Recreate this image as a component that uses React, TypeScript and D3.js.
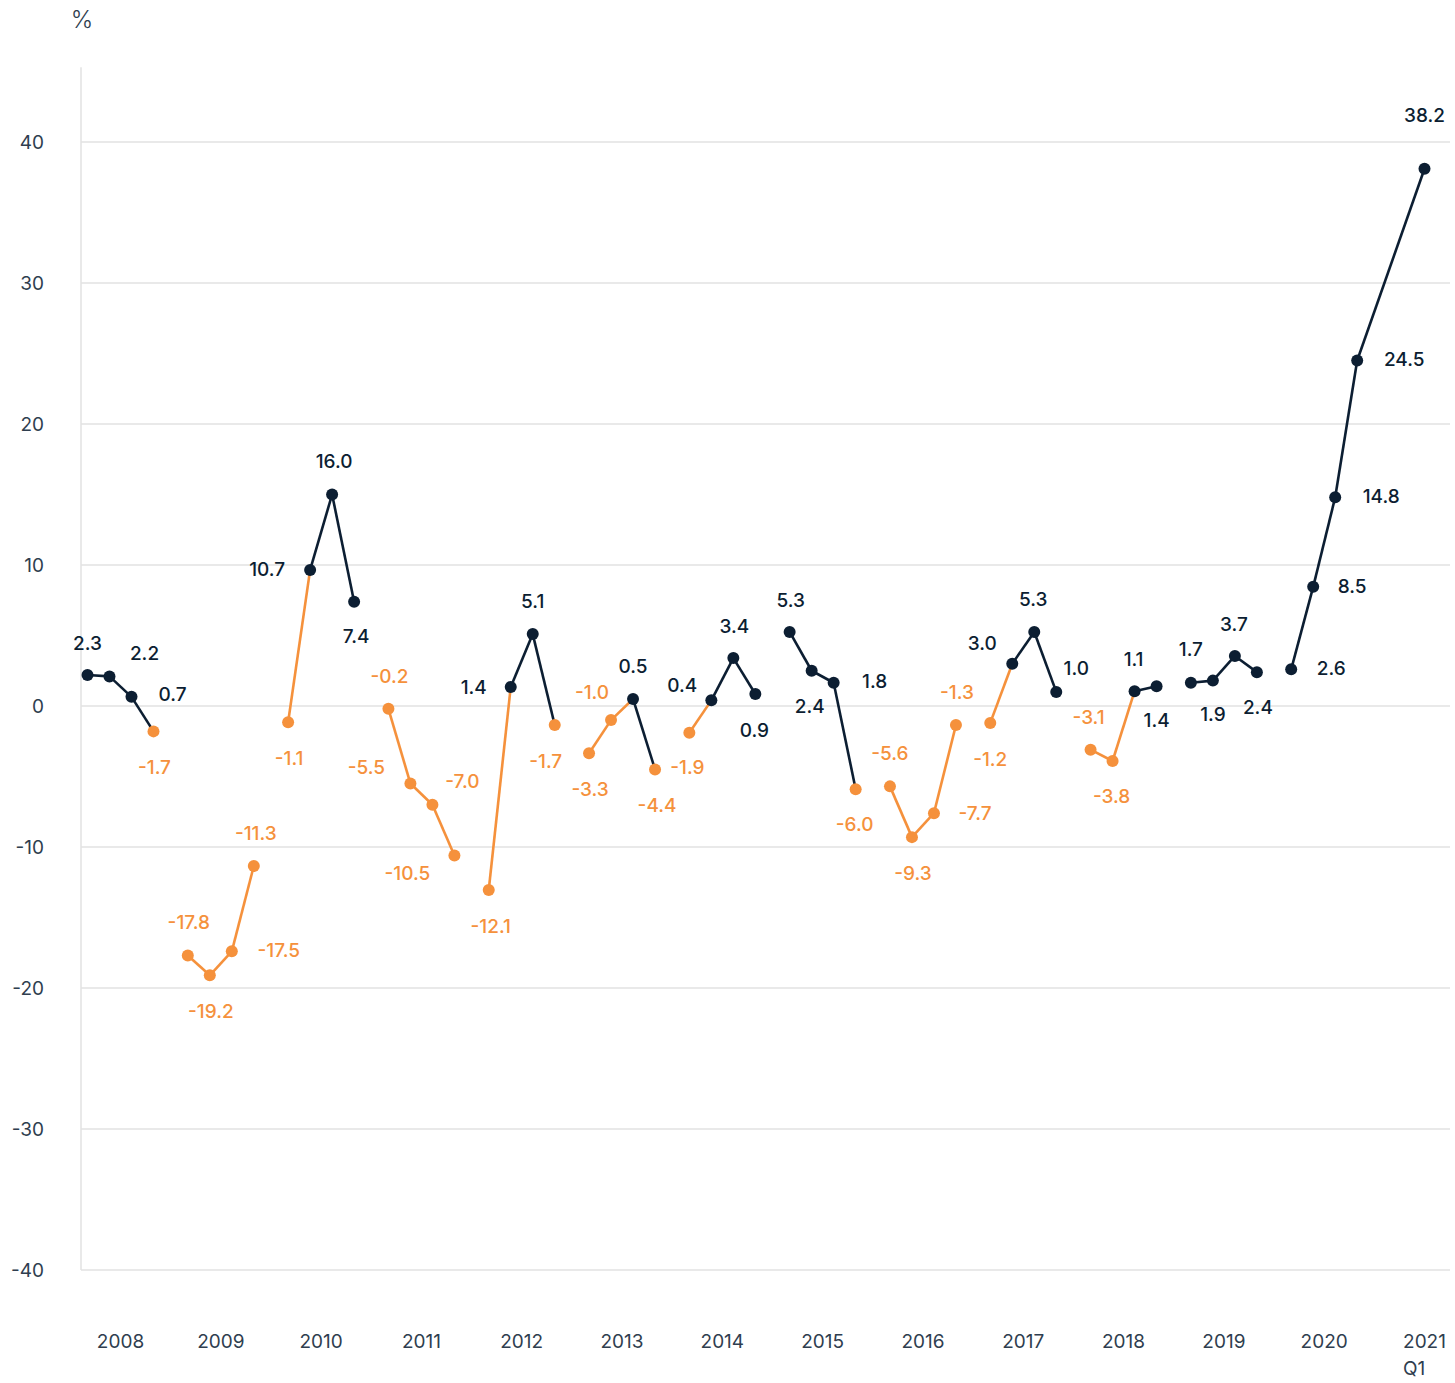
import * as d3 from 'd3';

// quarterly change, %, one row per year (2021 has Q1 only)
const years = [2008, 2009, 2010, 2011, 2012, 2013, 2014, 2015, 2016, 2017, 2018, 2019, 2020, 2021];

// values as plotted
const values = [
  [2.2, 2.1, 0.65, -1.8],
  [-17.7, -19.1, -17.4, -11.35],
  [-1.15, 9.65, 15.0, 7.4],
  [-0.2, -5.5, -7.0, -10.6],
  [-13.05, 1.35, 5.1, -1.35],
  [-3.35, -1.0, 0.5, -4.5],
  [-1.9, 0.4, 3.4, 0.85],
  [5.25, 2.5, 1.65, -5.9],
  [-5.7, -9.3, -7.6, -1.35],
  [-1.2, 3.0, 5.25, 1.0],
  [-3.1, -3.9, 1.05, 1.4],
  [1.65, 1.8, 3.55, 2.4],
  [2.6, 8.45, 14.8, 24.5],
  [38.1],
];

// values as printed next to the points
const labels = [
  ['2.3', '2.2', '0.7', '-1.7'],
  ['-17.8', '-19.2', '-17.5', '-11.3'],
  ['-1.1', '10.7', '16.0', '7.4'],
  ['-0.2', '-5.5', '-7.0', '-10.5'],
  ['-12.1', '1.4', '5.1', '-1.7'],
  ['-3.3', '-1.0', '0.5', '-4.4'],
  ['-1.9', '0.4', '3.4', '0.9'],
  ['5.3', '2.4', '1.8', '-6.0'],
  ['-5.6', '-9.3', '-7.7', '-1.3'],
  ['-1.2', '3.0', '5.3', '1.0'],
  ['-3.1', '-3.8', '1.1', '1.4'],
  ['1.7', '1.9', '3.7', '2.4'],
  ['2.6', '8.5', '14.8', '24.5'],
  ['38.2'],
];

// years whose first point is joined to the previous year's last point
const joinToPrevious = [2021];

const yTicks = [-40, -30, -20, -10, 0, 10, 20, 30, 40];

// label placement around each point (dx, dy of label centre)
const labelOffsets = [
  [[0, -32], [35, -23], [41, -2], [1, 36]],
  [[1, -33], [1, 36], [47, -1], [2, -33]],
  [[1, 36], [-43, -1], [2, -33], [2, 35]],
  [[1, -32], [-44, -16], [30, -23], [-47, 18]],
  [[2, 36], [-37, 0], [0, -33], [-9, 36]],
  [[1, 36], [-19, -28], [0, -33], [2, 36]],
  [[-2, 35], [-29, -15], [1, -32], [-1, 36]],
  [[1, -32], [-2, 36], [41, -1], [-1, 35]],
  [[0, -33], [1, 36], [41, 0], [1, -33]],
  [[0, 36], [-30, -20], [-1, -33], [20, -24]],
  [[-2, -32], [-1, 35], [-1, -32], [0, 34]],
  [[0, -33], [0, 34], [-1, -32], [1, 35]],
  [[40, -1], [39, -1], [46, -1], [47, -1]],
  [[0, -53]],
];

const W = 1455;
const H = 1383;
const NAVY = '#0c1e32';
const ORANGE = '#f5913c';
const TEXT = '#2f3e4f';
const GRID = '#e2e2e2';
const FONT = 'Inter, "Noto Sans", sans-serif';

const App = () => {
  const x = d3.scalePoint<number>().domain(years).range([120.5, 1424.5]);
  const y = d3.scaleLinear().domain([-40, 40]).range([1270, 142]);
  const qStep = 22;
  const plotLeft = 81;
  const plotRight = 1450;

  const pts = years.flatMap((yr, i) =>
    values[i].map((v, q) => {
      const n = values[i].length;
      return {
        year: yr,
        q,
        v,
        label: labels[i][q],
        off: labelOffsets[i][q],
        px: (x(yr) as number) + (q - (n - 1) / 2) * qStep,
        py: y(v),
      };
    })
  );

  const segs = [];
  for (let k = 1; k < pts.length; k++) {
    const a = pts[k - 1];
    const b = pts[k];
    if (a.year === b.year || (joinToPrevious.includes(b.year) && b.q === 0)) {
      segs.push({ a, b });
    }
  }

  const col = (v: number) => (v >= 0 ? NAVY : ORANGE);

  return (
    <svg width={W} height={H} style={{ position: 'absolute', left: 0, top: 0, display: 'block', background: '#fff' }} fontFamily={FONT}>
      <text x={82} y={20} dy="0.35em" textAnchor="middle" fontSize={24} fontWeight={300} fill={TEXT}>%</text>

      {yTicks.map(t => (
        <g key={t}>
          <line x1={plotLeft} x2={plotRight} y1={y(t)} y2={y(t)} stroke={GRID} strokeWidth={1.5} />
          <text x={44} y={y(t)} dy="0.35em" textAnchor="end" fontSize={19} fill={TEXT}>{t}</text>
        </g>
      ))}
      <line x1={plotLeft} x2={plotLeft} y1={y(45.3)} y2={y(-40)} stroke={GRID} strokeWidth={1.5} />

      {years.map(yr => (
        <text key={yr} x={x(yr)} y={1341} dy="0.35em" textAnchor="middle" fontSize={19} fill={TEXT}>{yr}</text>
      ))}
      <text x={1403} y={1368} dy="0.35em" textAnchor="start" fontSize={19} fill={TEXT}>Q1</text>

      {segs.map((s, i) => (
        <line key={i} x1={s.a.px} y1={s.a.py} x2={s.b.px} y2={s.b.py} stroke={col(s.a.v)} strokeWidth={2.6} />
      ))}

      {pts.map((p, i) => (
        <circle key={i} cx={p.px} cy={p.py} r={6} fill={col(p.v)} />
      ))}

      {pts.map((p, i) => (
        <text key={i} x={p.px + p.off[0]} y={p.py + p.off[1]} dy="0.35em" textAnchor="middle" fontSize={19} fontWeight={500} fill={col(p.v)}>
          {p.label}
        </text>
      ))}
    </svg>
  );
};

export default App;
